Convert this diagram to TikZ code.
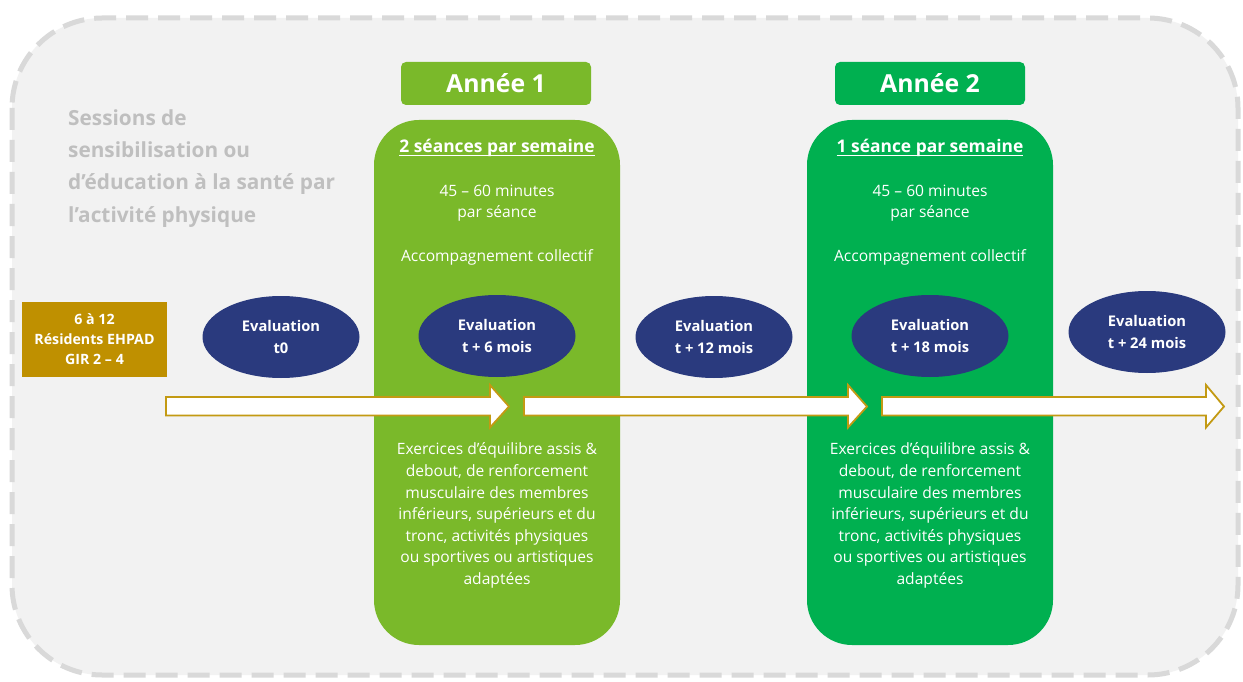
\documentclass[tikz,border=0pt]{standalone}
\usepackage{fontspec}
\setmainfont{Open Sans}
\usetikzlibrary{shapes.geometric}
\definecolor{bgpanel}{HTML}{F2F2F2}
\definecolor{dashgray}{HTML}{D9D9D9}
\definecolor{titlegray}{HTML}{BFBFBF}
\definecolor{greenA}{HTML}{7AB92A}
\definecolor{greenB}{HTML}{00B050}
\definecolor{evalblue}{HTML}{2A3A7E}
\definecolor{goldbox}{HTML}{BF9000}
\definecolor{arrowgold}{HTML}{C39A13}
\newcommand{\ul}[1]{\tikz[baseline=(u.base)]{\node[inner sep=0pt] (u) {#1};\draw[white,line width=0.9pt] ([yshift=-2.5pt]u.base west) -- ([yshift=-2.5pt]u.base east);}}
\tikzset{
  x=1pt,y=-1pt,
  header/.style={rectangle,rounded corners=5pt,minimum width=190pt,minimum height=43pt,text=white,font=\bfseries\fontsize{24.8}{30}\selectfont},
  column/.style={rectangle,rounded corners=45pt,minimum width=246pt,minimum height=525pt},
  evalnode/.style={ellipse,fill=evalblue,minimum width=157pt,minimum height=82pt,inner sep=0pt,text=white,align=center,font=\bfseries\fontsize{14.7}{22}\selectfont},
  coltext/.style={text=white,align=center,font=\fontsize{15.6}{21.6}\selectfont,inner sep=0pt},
  subtitle/.style={text=white,inner sep=0pt,font=\bfseries\fontsize{17.4}{20}\selectfont},
  flowarrow/.style={draw=arrowgold,line width=1.8pt,fill=white,line join=miter},
}
\begin{document}
\begin{tikzpicture}
\useasboundingbox[fill=white] (0,0) rectangle (1243,682);
\path[fill=bgpanel,draw=dashgray,line width=5pt,dash pattern=on 22pt off 10pt,rounded corners=90pt] (12,18) rectangle (1238,675);
\node[text=titlegray,align=left,anchor=north west,inner sep=0pt,font=\bfseries\fontsize{20.8}{32.4}\selectfont] (title) at (68,109) {Sessions de\\sensibilisation ou\\d’éducation à la santé par\\l’activité physique};
% columns
\node[column,fill=greenA] (col1) at (497,382.5) {};
\node[column,fill=greenB] (col2) at (930,382.5) {};
\node[header,fill=greenA] (h1) at (496,83.5) {Année 1};
\node[header,fill=greenB] (h2) at (930,83.5) {Année 2};
% column texts
\node[subtitle] (s1) at (497,148) {\ul{2 séances par semaine}};
\node[coltext] (d1) at (497,203) {45 – 60 minutes\\par séance};
\node[coltext] (a1) at (497,257) {Accompagnement collectif};
\node[coltext] (e1) at (497,515.5) {Exercices d’équilibre assis \&\\debout, de renforcement\\musculaire des membres\\inférieurs, supérieurs et du\\tronc, activités physiques\\ou sportives ou artistiques\\adaptées};
\node[subtitle] (s2) at (930,148) {\ul{1 séance par semaine}};
\node[coltext] (d2) at (930,203) {45 – 60 minutes\\par séance};
\node[coltext] (a2) at (930,257) {Accompagnement collectif};
\node[coltext] (e2) at (930,515.5) {Exercices d’équilibre assis \&\\debout, de renforcement\\musculaire des membres\\inférieurs, supérieurs et du\\tronc, activités physiques\\ou sportives ou artistiques\\adaptées};
% participants box
\node[rectangle,fill=goldbox,minimum width=145pt,minimum height=75pt,text=white,align=center,inner sep=0pt,font=\bfseries\fontsize{14.2}{20}\selectfont] (res) at (94.5,339.5) {6 à 12\\Résidents EHPAD\\GIR 2 – 4};
% evaluations
\node[evalnode] (ev0) at (281,337) {Evaluation\\t0};
\node[evalnode] (ev6) at (497,336) {Evaluation\\t + 6 mois};
\node[evalnode] (ev12) at (714,337) {Evaluation\\t + 12 mois};
\node[evalnode] (ev18) at (930,336) {Evaluation\\t + 18 mois};
\node[evalnode] (ev24) at (1147,332) {Evaluation\\t + 24 mois};
% arrows
\coordinate (ar1s) at (166,406.5);
\coordinate (ar1e) at (509,406.5);
\coordinate (ar2s) at (524,406.5);
\coordinate (ar2e) at (867,406.5);
\coordinate (ar3s) at (882,406.5);
\coordinate (ar3e) at (1224,406.5);
\draw[flowarrow] (ar1s) ++(0,-9.5) -- ++(324,0) -- ++(0,-12) -- (ar1e) -- ++(-19,21) -- ++(0,-12) -- ++(-324,0) -- cycle;
\draw[flowarrow] (ar2s) ++(0,-9.5) -- ++(324,0) -- ++(0,-12) -- (ar2e) -- ++(-19,21) -- ++(0,-12) -- ++(-324,0) -- cycle;
\draw[flowarrow] (ar3s) ++(0,-9.5) -- ++(324,0) -- ++(0,-12) -- (ar3e) -- ++(-18,21) -- ++(0,-12) -- ++(-324,0) -- cycle;
\end{tikzpicture}
\end{document}
